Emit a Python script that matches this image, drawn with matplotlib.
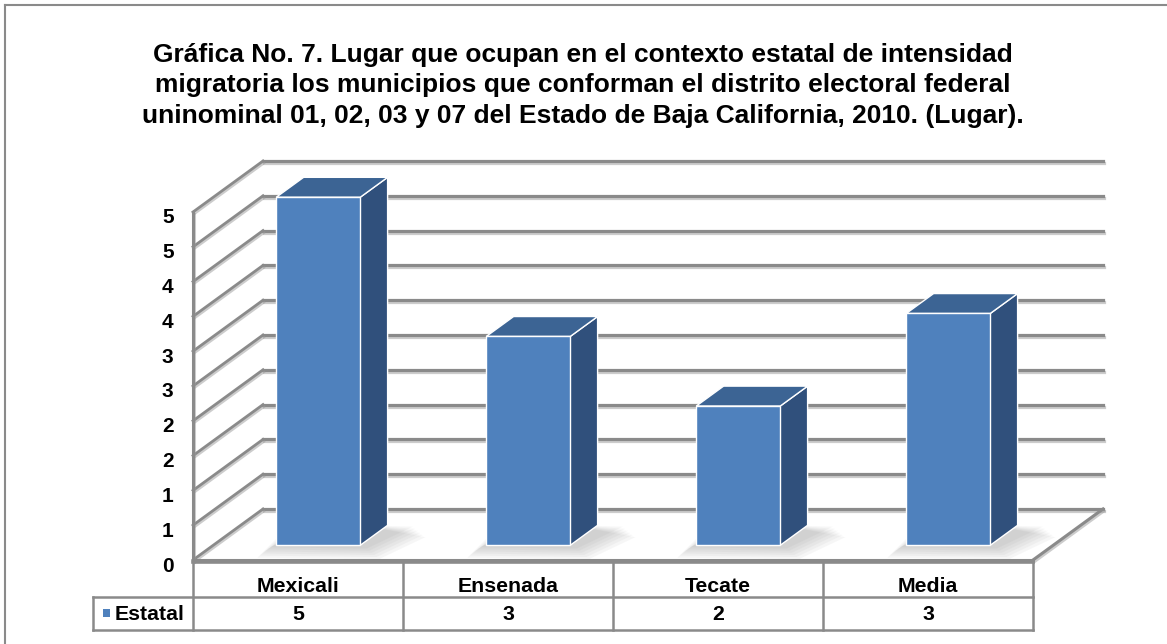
import matplotlib
matplotlib.use("Agg")
import matplotlib.pyplot as plt
from matplotlib.patches import Polygon
from matplotlib.lines import Line2D
import matplotlib.patheffects as pe
from matplotlib.transforms import ScaledTranslation

# ---------------- data ----------------
title_lines = [
    "Gráfica No. 7. Lugar que ocupan en el contexto estatal de intensidad",
    "migratoria los municipios que conforman el distrito electoral federal",
    "uninominal 01, 02, 03 y 07 del Estado de Baja California, 2010. (Lugar).",
]
categories = ["Mexicali", "Ensenada", "Tecate", "Media"]
series_name = "Estatal"
values = [5, 3, 2, 3.33]
yticks = [0, 0.5, 1, 1.5, 2, 2.5, 3, 3.5, 4, 4.5, 5]
ytick_labels = ["0", "1", "1", "2", "2", "3", "3", "4", "4", "5", "5"]

# ---------------- style ----------------
W, H = 1167, 644
FONT = "Liberation Sans"
C_FRONT = "#4F81BD"
C_TOP = "#3C6494"
C_SIDE = "#30507C"
C_GRID = "#8A8A8A"
DX = 70 / 210.0      # depth offset in category units
DY = 51 / 69.6       # depth offset in value units
F0, F1 = 0.29, 0.68  # bar depth span (fraction of wall depth)
BW = 0.40            # bar width

plt.rcParams["font.family"] = [FONT, "DejaVu Sans"]
fig = plt.figure(figsize=(W / 100, H / 100), dpi=100)
fig.patch.set_facecolor("white")

ax = fig.add_axes([193 / W, 1 - 560 / H, 840 / W, 348 / H])
ax.set_xlim(-0.5, len(categories) - 0.5)
ax.set_ylim(0, 5)
ax.set_facecolor("none")
for s in ax.spines.values():
    s.set_visible(False)
ax.set_xticks([])
ax.set_yticks(yticks)
ax.set_yticklabels(ytick_labels, fontsize=15, fontweight="bold")
ax.tick_params(axis="y", length=0, pad=14)
off = ScaledTranslation(0, -4 / 100, fig.dpi_scale_trans)
for lab in ax.get_yticklabels():
    lab.set_transform(lab.get_transform() + off)

shadow = [pe.SimpleLineShadow(offset=(0.5, -1.5), shadow_color="#9a9a9a", alpha=0.5), pe.Normal()]
xl, xr = -0.5, len(categories) - 0.5

# back wall gridlines
for v in yticks:
    ax.add_line(Line2D([xl + DX, xr + DX], [v + DY, v + DY], color=C_GRID, lw=2.3,
                       clip_on=False, zorder=1, path_effects=shadow))
    # left wall diagonals
    ax.add_line(Line2D([xl, xl + DX], [v, v + DY], color=C_GRID, lw=2.0,
                       clip_on=False, zorder=1, path_effects=shadow))
# left wall front edge
ax.add_line(Line2D([xl, xl], [0, 5], color=C_GRID, lw=2.2, clip_on=False, zorder=1,
                   path_effects=shadow))
# floor right edge & front edge
ax.add_line(Line2D([xr, xr + DX], [0, DY], color=C_GRID, lw=2.2, clip_on=False, zorder=1,
                   path_effects=shadow))
ax.add_line(Line2D([xl, xr], [0, 0], color=C_GRID, lw=2.2, clip_on=False, zorder=1))

# bars
for i, v in enumerate(values):
    x0 = i - BW / 2 + F0 * DX
    x1 = i + BW / 2 + F0 * DX
    y0 = F0 * DY
    y1 = v + F0 * DY
    ddx = (F1 - F0) * DX
    ddy = (F1 - F0) * DY
    # soft shadow on floor
    for k in range(6):
        s = 0.012 * k
        sy = 0.03 * k
        ax.add_patch(Polygon([(x0 - 0.03 - s, y0 - 0.03 - sy), (x1 + 0.03 + s, y0 - 0.05 - sy),
                              (x1 + ddx + 0.12 + s, y0 + ddy - 0.02 - sy),
                              (x0 + ddx + 0.05 - s, y0 + ddy + 0.02 + sy)],
                             closed=True, facecolor="#606060", edgecolor="none",
                             alpha=0.05, zorder=2, clip_on=False))
    side = Polygon([(x1, y0), (x1 + ddx, y0 + ddy), (x1 + ddx, y1 + ddy), (x1, y1)],
                   closed=True, facecolor=C_SIDE, edgecolor="white", lw=1.0, zorder=3,
                   clip_on=False)
    top = Polygon([(x0, y1), (x1, y1), (x1 + ddx, y1 + ddy), (x0 + ddx, y1 + ddy)],
                  closed=True, facecolor=C_TOP, edgecolor="white", lw=1.0, zorder=3,
                  clip_on=False)
    front = Polygon([(x0, y0), (x1, y0), (x1, y1), (x0, y1)], closed=True,
                    facecolor=C_FRONT, edgecolor="white", lw=1.0, zorder=4, clip_on=False)
    ax.add_patch(side)
    ax.add_patch(top)
    ax.add_patch(front)

# data table
tr = ax.get_xaxis_transform()
yt, ym, yb = -2 / 348, -37 / 348, -70 / 348
xleg = -0.5 - 100 / 210
tkw = dict(color=C_GRID, lw=1.8, clip_on=False, transform=tr, zorder=5)
ax.add_line(Line2D([xl, xr], [yt, yt], **dict(tkw, lw=2.6)))
ax.add_line(Line2D([xleg, xr], [ym, ym], **tkw))
ax.add_line(Line2D([xleg, xr], [yb, yb], **tkw))
ax.add_line(Line2D([xleg, xleg], [ym, yb], **tkw))
for j in range(len(categories) + 1):
    ax.add_line(Line2D([xl + j, xl + j], [yt, yb], **tkw))
for i, (c, v) in enumerate(zip(categories, values)):
    ax.text(i, -32 / 348, c, transform=tr, ha="center", va="baseline",
            fontsize=15.3, fontweight="bold")
    ax.text(i, -60 / 348, f"{v:.0f}", transform=tr, ha="center", va="baseline",
            fontsize=15.3, fontweight="bold")
ax.add_patch(plt.Rectangle((xleg + 10 / 210, -57 / 348), 7 / 210, 8 / 348,
                           transform=tr, facecolor=C_FRONT, edgecolor="none",
                           clip_on=False))
ax.text(xleg + 22 / 210, -60 / 348, series_name, transform=tr, ha="left", va="baseline",
        fontsize=15.3, fontweight="bold")

# title
for k, line in enumerate(title_lines):
    fig.text(0.4995, 1 - (62 + 30.3 * k) / H, line, ha="center", va="baseline",
             fontsize=19, fontweight="bold")

# outer chart border
fig.add_artist(Line2D([5 / W, 5 / W], [0, 1 - 5 / H], color=C_GRID, lw=1.5))
fig.add_artist(Line2D([5 / W, 1], [1 - 5 / H, 1 - 5 / H], color=C_GRID, lw=1.5))

fig.savefig("out.png", dpi=100, facecolor="white")
